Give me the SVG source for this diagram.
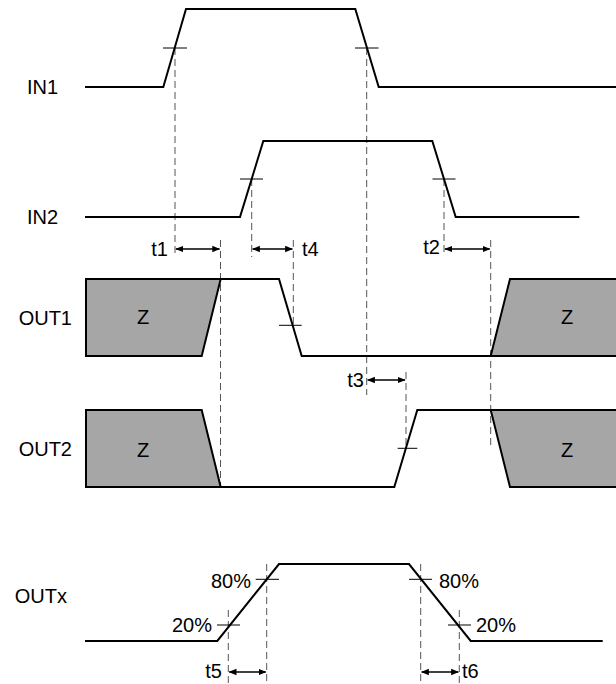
<svg xmlns="http://www.w3.org/2000/svg" width="616" height="684" viewBox="0 0 616 684">
<style>
.sig{fill:none;stroke:#000;stroke-width:2;stroke-linejoin:miter}
.z{fill:#a6a6a6;stroke:#000;stroke-width:2}
.tick{stroke:#000;stroke-width:1}
.dash{stroke:#555;stroke-width:1;stroke-dasharray:7,4;fill:none}
.arr{stroke:#000;stroke-width:1.5;marker-start:url(#ah);marker-end:url(#ah)}
text{font-family:"Liberation Sans",Arial,sans-serif;font-size:20px;fill:#000}
.r{text-anchor:end}
.m{text-anchor:middle}
</style>
<defs>
<marker id="ah" viewBox="0 0 10 10" refX="9" refY="5" markerWidth="8" markerHeight="8" orient="auto-start-reverse" markerUnits="userSpaceOnUse">
<path d="M0,1 L10,5 L0,9 z" fill="#000"/>
</marker>
</defs>
<g id="connectors">
<line class="dash" x1="175" y1="48" x2="175" y2="256"/>
<line class="dash" x1="366.7" y1="48" x2="366.7" y2="395"/>
<line class="dash" x1="251.7" y1="179" x2="251.7" y2="257"/>
<line class="dash" x1="444" y1="179" x2="444" y2="256"/>
<line class="dash" x1="220.5" y1="240" x2="220.5" y2="487"/>
<line class="dash" x1="293.3" y1="240" x2="293.3" y2="325"/>
<line class="dash" x1="490.7" y1="240" x2="490.7" y2="448"/>
<line class="dash" x1="406" y1="372" x2="406" y2="448"/>
<line class="dash" x1="228.3" y1="610" x2="228.3" y2="684"/>
<line class="dash" x1="266.7" y1="564" x2="266.7" y2="684"/>
<line class="dash" x1="420.7" y1="564" x2="420.7" y2="684"/>
<line class="dash" x1="459.3" y1="610" x2="459.3" y2="684"/>
<line class="arr" x1="176" y1="249" x2="219.5" y2="249"/>
<line class="arr" x1="252.7" y1="249" x2="292.3" y2="249"/>
<line class="arr" x1="445" y1="249" x2="489.7" y2="249"/>
<line class="arr" x1="367.7" y1="380" x2="405" y2="380"/>
<line class="arr" x1="229.3" y1="672" x2="265.7" y2="672"/>
<line class="arr" x1="421.7" y1="672" x2="458.3" y2="672"/>
<text x="168" y="256" class="r">t1</text>
<text x="302" y="256">t4</text>
<text x="440" y="254" class="r">t2</text>
<text x="364" y="387" class="r">t3</text>
<text x="222" y="678" class="r">t5</text>
<text x="462" y="678">t6</text>
</g>
<g id="IN1">
<text x="27" y="94">IN1</text>
<polyline class="sig" points="85,87 163.3,87 186,9 355.3,9 378.7,87 616,87"/>
<line class="tick" x1="163" y1="48" x2="187" y2="48"/>
<line class="tick" x1="355" y1="48" x2="378.5" y2="48"/>
</g>
<g id="IN2">
<text x="27" y="224">IN2</text>
<polyline class="sig" points="85,217 240,217 263.3,141 432.3,141 455.7,217 579.3,217"/>
<line class="tick" x1="240" y1="179" x2="263" y2="179"/>
<line class="tick" x1="432.5" y1="179" x2="455.5" y2="179"/>
</g>
<g id="OUT1">
<text x="72" y="325" class="r">OUT1</text>
<polygon class="z" points="86,279 220.7,279 201.7,356 86,356"/>
<polygon class="z" points="490.7,356 510,279 620,279 620,356"/>
<polyline class="sig" points="220.7,279 279,279 301.7,356 490.7,356"/>
<line class="tick" x1="279" y1="325.3" x2="301.7" y2="325.3"/>
<text x="143" y="324" class="m">Z</text>
<text x="567" y="324" class="m">Z</text>
</g>
<g id="OUT2">
<text x="72" y="456" class="r">OUT2</text>
<polygon class="z" points="86,410 201.7,410 220.7,487 86,487"/>
<polygon class="z" points="490.7,410 620,410 620,487 510,487"/>
<polyline class="sig" points="220.7,487 394.3,487 417.3,410 490.7,410"/>
<line class="tick" x1="397.7" y1="448.3" x2="417.3" y2="448.3"/>
<text x="143" y="457" class="m">Z</text>
<text x="567" y="457" class="m">Z</text>
</g>
<g id="OUTx">
<text x="67" y="603" class="r">OUTx</text>
<polyline class="sig" points="85,641 217.3,641 279,564 409,564 470.7,641 602.7,641"/>
<line class="tick" x1="255.7" y1="579.3" x2="279" y2="579.3"/>
<line class="tick" x1="217" y1="625" x2="240" y2="625"/>
<line class="tick" x1="409" y1="579.3" x2="432" y2="579.3"/>
<line class="tick" x1="448" y1="625" x2="471" y2="625"/>
<text x="251" y="588" class="r">80%</text>
<text x="212" y="632" class="r">20%</text>
<text x="439" y="588">80%</text>
<text x="476" y="632">20%</text>
</g>
</svg>
